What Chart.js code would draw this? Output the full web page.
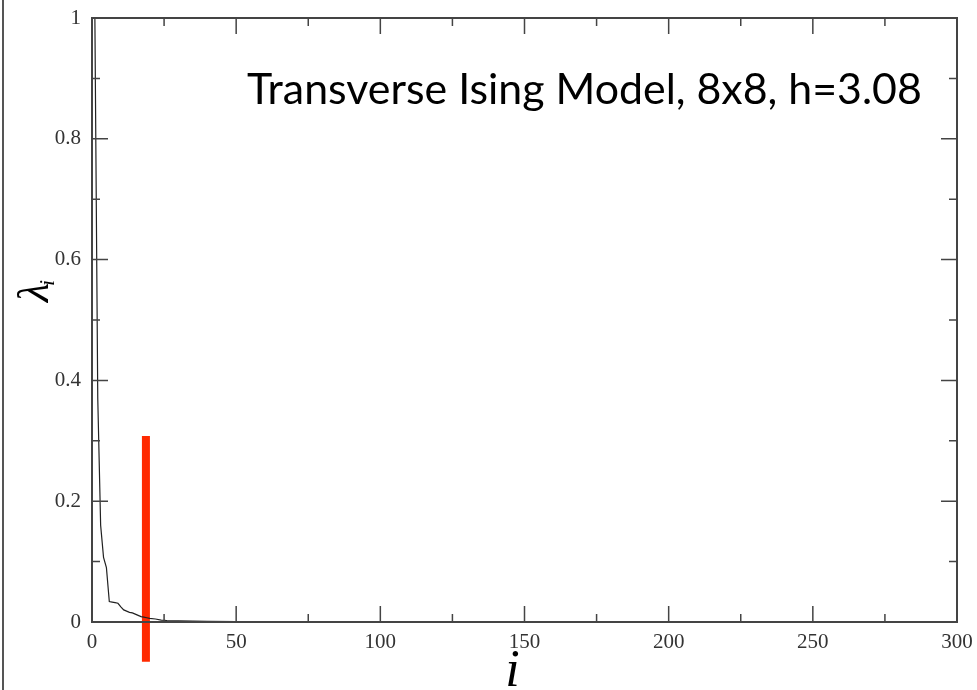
<!DOCTYPE html>
<html>
<head>
<meta charset="utf-8">
<script src="https://cdn.jsdelivr.net/npm/chart.js@4"></script>
<style>
  html, body { margin: 0; padding: 0; background: #fff; }
  #wrap { position: relative; width: 977px; height: 690px; }
  #edge { position: absolute; left: 2px; top: 0; width: 0; height: 690px; border-left: 2px solid #555; }
</style>
</head>
<body>
<div id="wrap">
  <canvas id="myChart" width="977" height="690"></canvas>
  <div id="edge"></div>
</div>
<script>
// eigenvalue index and value
const indexI = [1, 2, 3, 4, 5, 6, 7, 8, 9, 10, 11, 12, 13, 14, 15, 16, 17, 18, 19, 20, 22, 24, 26, 30, 35, 40, 50, 80, 120, 180, 256];
const lambdaI = [1.0, 0.37, 0.16, 0.107, 0.09, 0.034, 0.033, 0.032, 0.031, 0.025, 0.02, 0.018, 0.016, 0.015, 0.013, 0.011, 0.009, 0.008, 0.007, 0.006, 0.005, 0.003, 0.0025, 0.002, 0.0015, 0.001, 0.0005, 0.0002, 0.0001, 0, 0];

// red cut marker
const cutX = [18.7, 18.7];
const cutY = [0.308, -0.066];

const xTicks = [0, 50, 100, 150, 200, 250, 300];
const yTicks = [0, 0.2, 0.4, 0.6, 0.8, 1];
const titleText = 'Transverse Ising Model, 8x8, h=3.08';

const frameAndTicks = {
	id: 'frameAndTicks',
	afterDatasetsDraw(chart) {
		const { ctx, chartArea: a, scales } = chart;
		const xs = scales.x, ys = scales.y;
		ctx.save();
		ctx.strokeStyle = '#444';
		ctx.lineWidth = 2;
		ctx.strokeRect(a.left, a.top, a.right - a.left, a.bottom - a.top);
		ctx.lineWidth = 1.5;
		ctx.beginPath();
		// x ticks, major every 50, minor every 25
		for (let v = 0; v <= 300; v += 25) {
			const px = xs.getPixelForValue(v);
			const len = v % 50 === 0 ? 16 : 8;
			ctx.moveTo(px, a.bottom); ctx.lineTo(px, a.bottom - len);
			ctx.moveTo(px, a.top); ctx.lineTo(px, a.top + len);
		}
		// y ticks, major every 0.2, minor every 0.1
		for (let k = 0; k <= 10; k++) {
			const py = ys.getPixelForValue(k / 10);
			const len = k % 2 === 0 ? 16 : 8;
			ctx.moveTo(a.left, py); ctx.lineTo(a.left + len, py);
			ctx.moveTo(a.right, py); ctx.lineTo(a.right - len, py);
		}
		ctx.stroke();

		// title inside the plot
		ctx.fillStyle = '#000';
		let size = 44;
		ctx.font = size + 'px Lato';
		size = size * 675 / ctx.measureText(titleText).width;
		ctx.font = size + 'px Lato';
		ctx.textBaseline = 'alphabetic';
		ctx.textAlign = 'left';
		ctx.fillText(titleText, 247, 104);

		// x axis title
		ctx.font = 'italic 52px "Liberation Serif"';
		ctx.textAlign = 'center';
		ctx.fillText('i', (a.left + a.right) / 2 - 12, 686);

		// y axis title lambda_i
		ctx.translate(48, 302);
		ctx.rotate(-Math.PI / 2);
		ctx.textAlign = 'left';
		ctx.font = 'italic 44px "Liberation Serif"';
		ctx.fillText('λ', 0, 0);
		const w = ctx.measureText('λ').width;
		ctx.font = 'italic 22px "Liberation Serif"';
		ctx.fillText('i', w - 3, 6);
		ctx.restore();
	}
};

const ctx = document.getElementById('myChart');

new Chart(ctx, {
	type: 'scatter',
	data: {
		datasets: [
			{
				data: indexI.map((x, i) => ({ x, y: lambdaI[i] })),
				showLine: true,
				borderColor: '#222',
				borderWidth: 1.2,
				pointRadius: 0,
				tension: 0,
			},
			{
				data: cutX.map((x, i) => ({ x, y: cutY[i] })),
				showLine: true,
				borderColor: '#ff2a00',
				borderWidth: 8,
				borderCapStyle: 'butt',
				pointRadius: 0,
				clip: false,
			},
		],
	},
	options: {
		responsive: false,
		animation: false,
		devicePixelRatio: 1,
		layout: { padding: { top: 18, right: 20, left: 0, bottom: 0 } },
		plugins: { legend: { display: false }, tooltip: { enabled: false } },
		scales: {
			x: {
				type: 'linear',
				min: 0,
				max: 300,
				afterBuildTicks: (s) => { s.ticks = xTicks.map((value) => ({ value })); },
				afterFit: (s) => { s.height = 68; s.paddingLeft = 0; s.paddingRight = 0; },
				grid: { display: false, drawTicks: false },
				border: { display: false },
				ticks: {
					padding: 8,
					color: '#333',
					font: { family: 'Liberation Serif', size: 21 },
					maxRotation: 0,
				},
			},
			y: {
				min: 0,
				max: 1,
				afterBuildTicks: (s) => { s.ticks = yTicks.map((value) => ({ value })); },
				afterFit: (s) => { s.width = 92; s.paddingTop = 0; s.paddingBottom = 0; },
				grid: { display: false, drawTicks: false },
				border: { display: false },
				ticks: {
					padding: 11,
					color: '#333',
					font: { family: 'Liberation Serif', size: 21 },
					callback: (v) => String(Math.round(v * 10) / 10),
				},
			},
		},
	},
	plugins: [frameAndTicks],
});
</script>
</body>
</html>
